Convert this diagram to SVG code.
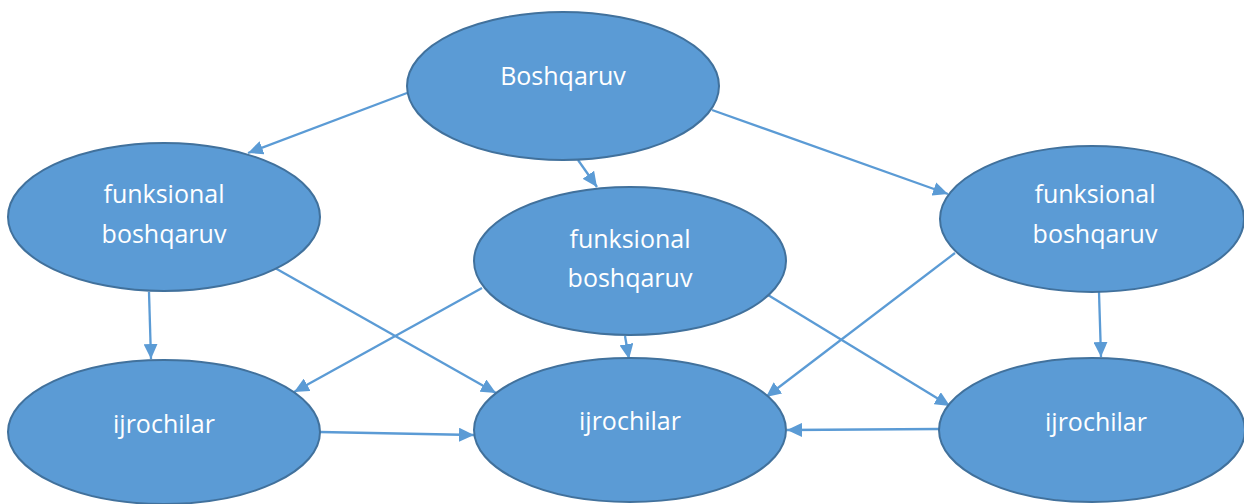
<svg xmlns="http://www.w3.org/2000/svg" width="1244" height="504" viewBox="0 0 1244 504">
<defs>
<style>
.node ellipse{fill:#5B9BD5;stroke:#41719C;stroke-width:2}
.node text{fill:#FFFFFF;font-family:"Open Sans","Liberation Sans",sans-serif;font-size:25px;text-anchor:middle}
.edges line{stroke:#5B9BD5;stroke-width:2.3;marker-end:url(#arr)}
</style>
<marker id="arr" markerUnits="userSpaceOnUse" markerWidth="16" markerHeight="14" refX="15" refY="7" orient="auto">
<path d="M0,0 L15,7 L0,14 z" fill="#5B9BD5"/>
</marker>
</defs>
<rect width="1244" height="504" fill="#FFFFFF"/>
<g class="edges" id="connectors">
<line x1="407" y1="93" x2="248" y2="153"/>
<line x1="578" y1="160" x2="597" y2="187"/>
<line x1="712" y1="110" x2="948" y2="194"/>
<line x1="149" y1="292" x2="151" y2="359"/>
<line x1="275" y1="268" x2="496" y2="393"/>
<line x1="482" y1="288" x2="294" y2="392"/>
<line x1="625" y1="336" x2="629" y2="359"/>
<line x1="768" y1="295" x2="950" y2="406"/>
<line x1="955" y1="253" x2="766" y2="397"/>
<line x1="1099" y1="292" x2="1101" y2="357"/>
<line x1="320" y1="432" x2="474" y2="435"/>
<line x1="939" y1="429" x2="787" y2="430"/>
</g>
<g class="node" id="boshqaruv">
<ellipse cx="563" cy="86" rx="156" ry="74"/>
<text x="563" y="85">Boshqaruv</text>
</g>
<g class="node" id="funk-left">
<ellipse cx="164" cy="217" rx="156" ry="74"/>
<text x="164" y="203">funksional</text>
<text x="164" y="243">boshqaruv</text>
</g>
<g class="node" id="funk-mid">
<ellipse cx="630" cy="261" rx="156" ry="74"/>
<text x="630" y="248">funksional</text>
<text x="630" y="287">boshqaruv</text>
</g>
<g class="node" id="funk-right">
<ellipse cx="1092" cy="219" rx="152" ry="73"/>
<text x="1095" y="203">funksional</text>
<text x="1095" y="243">boshqaruv</text>
</g>
<g class="node" id="ijro-left">
<ellipse cx="164" cy="432" rx="156" ry="72"/>
<text x="164" y="433">ijrochilar</text>
</g>
<g class="node" id="ijro-mid">
<ellipse cx="630" cy="430" rx="156" ry="72"/>
<text x="630" y="430">ijrochilar</text>
</g>
<g class="node" id="ijro-right">
<ellipse cx="1092" cy="430" rx="153" ry="72"/>
<text x="1096" y="431">ijrochilar</text>
</g>
</svg>
